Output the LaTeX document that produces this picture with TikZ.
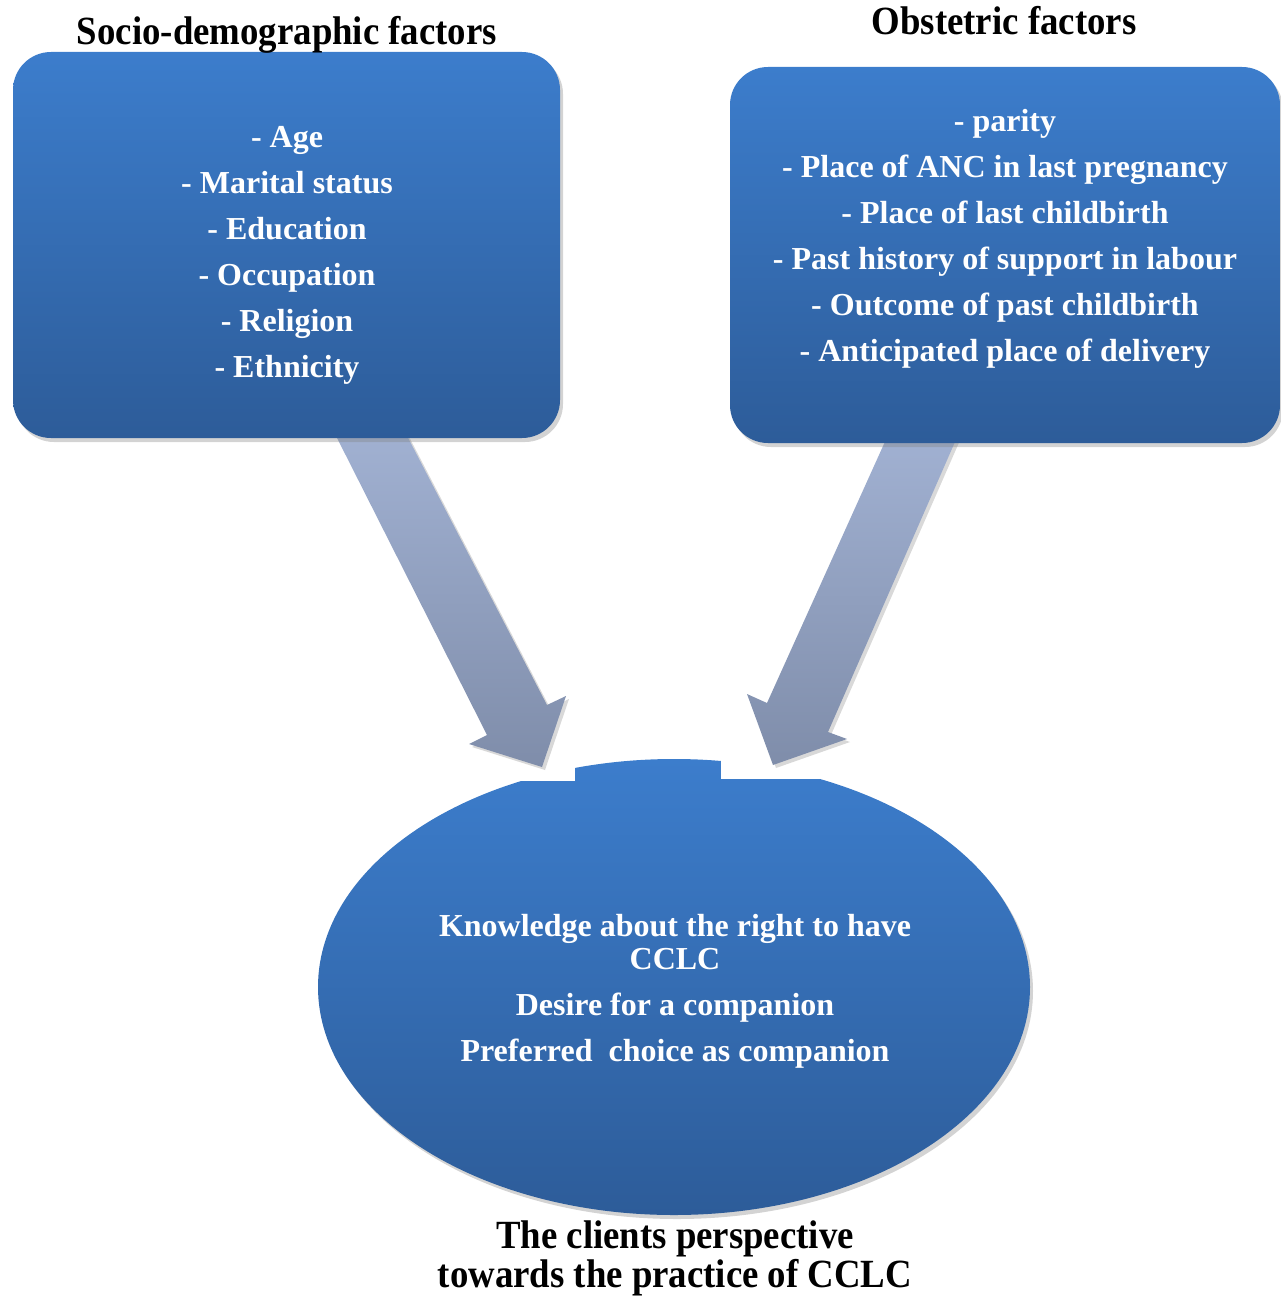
\documentclass[tikz,border=0pt]{standalone}
\usepackage{fontspec}
\setmainfont{Liberation Serif}
\newfontfamily\headfont[FakeStretch=0.92]{Liberation Serif}
\usetikzlibrary{shadows}

\definecolor{boxtop}{RGB}{60,125,204}
\definecolor{boxbot}{RGB}{45,92,153}
\definecolor{arrtop}{RGB}{161,177,210}
\definecolor{arrbot}{RGB}{127,141,170}

\begin{document}
\begin{tikzpicture}[
  x=1pt, y=-1pt,
  factbox/.style={rounded corners=38pt, top color=boxtop, bottom color=boxbot,
    drop shadow={opacity=0.35, shadow xshift=3pt, shadow yshift=-4pt}},
  blockarr/.style={top color=arrtop, bottom color=arrbot,
    drop shadow={opacity=0.3, shadow xshift=3pt, shadow yshift=-3pt}},
  itemtxt/.style={anchor=base, text=white, font=\bfseries\fontsize{32}{38}\selectfont},
  headtxt/.style={anchor=base, text=black, font=\headfont\bfseries\fontsize{40}{42}\selectfont}
]
\useasboundingbox (0,0) rectangle (1280,1298);

% the ellipse, its top cut off
\path [factbox] (674,987) ellipse [x radius=356, y radius=228];
\fill [white] (305,735) rectangle (575,781);
\fill [white] (721,735) rectangle (1045,779);

% block arrows
\path [blockarr] (333,430) -- (404,430) -- (547,705) -- (566,696) -- (542,767)
  -- (469,744) -- (487,735) -- cycle;
\path [blockarr] (888,435) -- (958,435) -- (828,732) -- (847,739) -- (773,765)
  -- (747,694) -- (767,703) -- cycle;

% factor boxes
\path [factbox] (13,52) rectangle (560,438);
\path [factbox] (730,67) rectangle (1280,443);

\node [headtxt] (sdhead) at (287,45) {Socio-demographic factors};
\node [headtxt] (obhead) at (1004,35) {Obstetric factors};

\foreach \txt [count=\i] in {- Age, - Marital status, - Education,
    - Occupation, - Religion, - Ethnicity}
  \node [itemtxt] (sd\i) at (287,101+46*\i) {\txt};

\foreach \txt [count=\i] in {- parity, - Place of ANC in last pregnancy,
    - Place of last childbirth, - Past history of support in labour,
    - Outcome of past childbirth, - Anticipated place of delivery}
  \node [itemtxt] (ob\i) at (1005,85+46*\i) {\txt};

\node [itemtxt] (know) at (675,936) {Knowledge about the right to have};
\node [itemtxt] (cclc) at (675,969) {CCLC};
\node [itemtxt] (desire) at (675,1015) {Desire for a companion};
\node [itemtxt] (pref) at (675,1061) {Preferred\ \ choice as companion};

\node [headtxt] (persp1) at (675,1248) {The clients perspective};
\node [headtxt] (persp2) at (675,1287) {towards the practice of CCLC};

\end{tikzpicture}
\end{document}
